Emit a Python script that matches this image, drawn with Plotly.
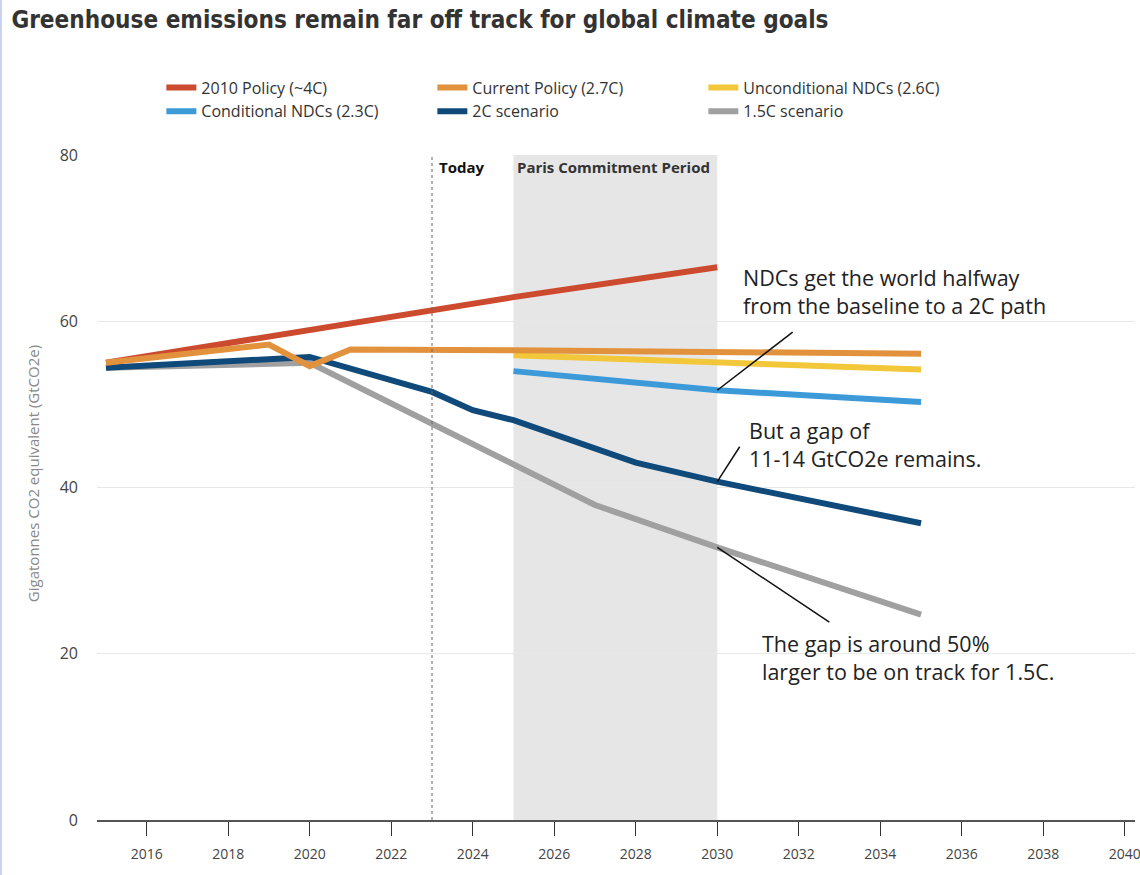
import plotly.graph_objects as go

# ---- data ----
policy2010_x = [2015, 2020, 2025, 2030]
policy2010_y = [55.0, 58.9, 62.9, 66.5]

current_x = [2015, 2019, 2020, 2021, 2025, 2030, 2035]
current_y = [55.0, 57.2, 54.6, 56.6, 56.5, 56.3, 56.1]

uncond_x = [2025, 2030, 2035]
uncond_y = [55.9, 55.1, 54.2]

cond_x = [2025, 2030, 2035]
cond_y = [54.0, 51.7, 50.3]

s2c_x = [2015, 2020, 2023, 2024, 2025, 2028, 2030, 2035]
s2c_y = [54.4, 55.7, 51.5, 49.3, 48.1, 43.0, 40.7, 35.7]

s15_x = [2015, 2020, 2027, 2030, 2035]
s15_y = [54.4, 55.0, 37.9, 32.8, 24.7]

x_ticks = list(range(2016, 2041, 2))
y_ticks = [0, 20, 40, 60, 80]

today_year = 2023
paris_start, paris_end = 2025, 2030

TITLE_FONT = "DejaVu Sans Condensed, DejaVu Sans, sans-serif"
FONT = "Open Sans, Noto Sans, sans-serif"
TXT = "Open Sans, Noto Sans, sans-serif"

fig = go.Figure()

# draw order (bottom -> top), legend order via legendrank
traces = [
    ("1.5C scenario", s15_x, s15_y, "#a0a0a0", 6),
    ("2C scenario", s2c_x, s2c_y, "#0f4a7a", 5),
    ("Conditional NDCs (2.3C)", cond_x, cond_y, "#3d9ad8", 4),
    ("Unconditional NDCs (2.6C)", uncond_x, uncond_y, "#f2c73a", 3),
    ("2010 Policy (~4C)", policy2010_x, policy2010_y, "#cc4a2e", 1),
    ("Current Policy (2.7C)", current_x, current_y, "#e2923c", 2),
]
for name, xs, ys, col, rank in traces:
    fig.add_trace(go.Scatter(
        x=xs, y=ys, name=name, mode="lines",
        line=dict(color=col, width=6),
        legendrank=rank, hoverinfo="skip",
    ))

# Paris commitment period shading
fig.add_shape(type="rect", xref="x", yref="y", x0=paris_start, x1=paris_end,
              y0=0, y1=80, fillcolor="#e6e6e6", line=dict(width=0), layer="below")
# Today line
fig.add_shape(type="line", xref="x", yref="y", x0=today_year, x1=today_year,
              y0=0, y1=80, line=dict(color="#666", width=1, dash="3px,3px"))

# annotation leader lines
leaders = [
    (2030, 51.7, 2031.85, 58.7),
    (2030, 40.7, 2030.55, 44.9),
    (2030, 32.8, 2032.75, 23.8),
]
for x0, y0, x1, y1 in leaders:
    fig.add_shape(type="line", xref="x", yref="y", x0=x0, y0=y0, x1=x1, y1=y1,
                  line=dict(color="#111", width=1.5))

# page left border
fig.add_shape(type="line", xref="paper", yref="paper", x0=-0.0925, x1=-0.0925,
              y0=-0.1, y1=1.3, line=dict(color="#c9d3ef", width=2))

ann_font = dict(family=TXT, size=21.5, color="#222")
fig.add_annotation(x=2030.57, y=67.2, xref="x", yref="y", xanchor="left", yanchor="top",
                   align="left", showarrow=False, font=ann_font,
                   text="NDCs get the world halfway<br>from the baseline to a 2C path")
fig.add_annotation(x=2030.72, y=48.8, xref="x", yref="y", xanchor="left", yanchor="top",
                   align="left", showarrow=False, font=ann_font,
                   text="But a gap of<br>11-14 GtCO2e remains.")
fig.add_annotation(x=2031.06, y=23.2, xref="x", yref="y", xanchor="left", yanchor="top",
                   align="left", showarrow=False, font=ann_font,
                   text="The gap is around 50%<br>larger to be on track for 1.5C.")

fig.add_annotation(x=today_year, y=80, xref="x", yref="y", xanchor="left", yanchor="top",
                   xshift=5, showarrow=False,
                   font=dict(family=FONT, size=15, color="#111"), text="<b>Today</b>")
fig.add_annotation(x=paris_start, y=80, xref="x", yref="y", xanchor="left", yanchor="top",
                   xshift=1, showarrow=False,
                   font=dict(family=FONT, size=15, color="#333"), text="<b>Paris Commitment Period</b>")

# y axis title
fig.add_annotation(x=-0.062, y=0.5, xref="paper", yref="paper", textangle=-90,
                   showarrow=False, xanchor="center", yanchor="middle", yshift=14,
                   font=dict(family=FONT, size=15, color="#888"),
                   text="Gigatonnes CO2 equivalent (GtCO2e)")

fig.update_layout(
    width=1140, height=875,
    margin=dict(l=97, r=5, t=155, b=55),
    paper_bgcolor="white", plot_bgcolor="white",
    title=dict(text="<b>Greenhouse emissions remain far off track for global climate goals</b>",
               x=0.01, xanchor="left", y=0.978, yanchor="middle",
               font=dict(family=TITLE_FONT, size=24.1, color="#333")),
    showlegend=True,
    legend=dict(orientation="h", x=0.062, y=1.127, xanchor="left", yanchor="top",
                entrywidth=226, font=dict(family=FONT, size=16, color="#333"),
                itemwidth=30, traceorder="normal"),
    xaxis=dict(range=[2014.78, 2040.25], tickvals=x_ticks, showgrid=False,
               showline=True, linecolor="#555", linewidth=2,
               ticks="outside", ticklen=14, tickcolor="#333", tickwidth=1,
               ticklabelstandoff=6, ticklabeloverflow="allow", automargin=False,
               tickfont=dict(family=FONT, size=14, color="#444"), zeroline=False),
    yaxis=dict(range=[0, 80], tickvals=y_ticks, showgrid=True, gridcolor="#e8e8e8",
               gridwidth=1, zeroline=False, ticks="", ticklabelstandoff=18,
               automargin=False,
               tickfont=dict(family=FONT, size=16, color="#444")),
)

fig.write_html("out.html")
